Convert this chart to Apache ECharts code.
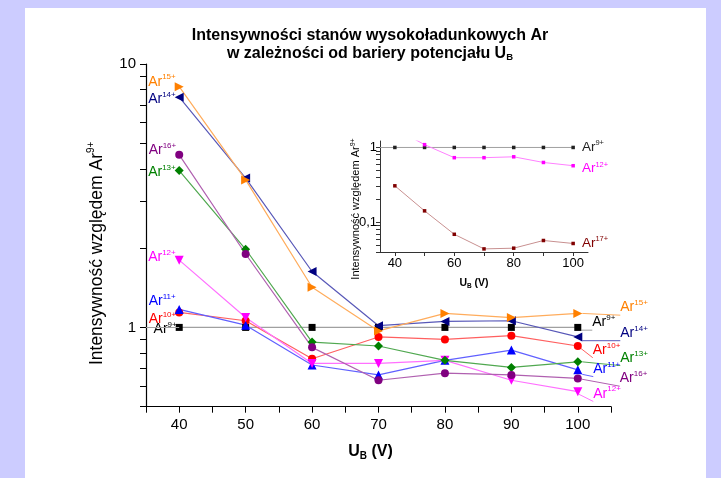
<!DOCTYPE html>
<html><head><meta charset="utf-8">
<script src="https://cdn.jsdelivr.net/npm/echarts@6/dist/echarts.min.js"></script>
<style>
html,body{margin:0;padding:0;background:#ccccff;width:721px;height:478px;overflow:hidden}
#panel{position:absolute;left:25px;top:8px;width:681px;height:470px;background:#fff}
#chart{position:absolute;left:0;top:0;width:721px;height:478px}
</style></head><body><div id="panel"></div><div id="chart"></div>
<script>
// ---- data ----
const uB = [40, 50, 60, 70, 80, 90, 100];
const ar9  = [1, 1, 1, 1, 1, 1, 1];
const ar10 = [1.14, 1.06, 0.76, 0.92, 0.90, 0.93, 0.85];
const ar11 = [1.17, 1.02, 0.72, 0.66, 0.75, 0.82, 0.69];
const ar12 = [1.80, 1.09, 0.73, 0.73, 0.75, 0.63, 0.57];
const ar13 = [3.94, 1.98, 0.88, 0.85, 0.75, 0.705, 0.74];
const ar14 = [7.48, 3.69, 1.63, 1.015, 1.054, 1.06, 0.92];
const ar15 = [8.2, 3.63, 1.42, 0.97, 1.13, 1.09, 1.13];
const ar16 = [4.52, 1.90, 0.84, 0.63, 0.67, 0.66, 0.64];
const ar17 = [0.307, 0.142, 0.069, 0.044, 0.045, 0.057, 0.052];

// ---- axis ticks / labels ----
const mainXTicks = [35, 40, 45, 50, 55, 60, 65, 70, 75, 80, 85, 90, 95, 100, 105];
const mainXLabels = [40, 50, 60, 70, 80, 90, 100];
const mainYTicks = [0.5, 0.6, 0.7, 0.8, 0.9, 1, 2, 3, 4, 5, 6, 7, 8, 9, 10];
const mainYLabels = [1, 10];
const insetXTicks = [40, 50, 60, 70, 80, 90, 100];
const insetXLabels = [40, 60, 80, 100];
const insetYTicks = [0.04, 0.05, 0.06, 0.07, 0.08, 0.09, 0.1, 0.2, 0.3, 0.4, 0.5, 0.6, 0.7, 0.8, 0.9, 1];
const insetYLabels = [0.1, 1];

const FF = '"Liberation Sans", Arial, Helvetica, sans-serif';

function rich(color, size, sup) {
  return {
    a: {fontSize: size, color: color, fontFamily: FF, lineHeight: size + 3},
    s: {fontSize: sup, color: color, fontFamily: FF, verticalAlign: 'top', lineHeight: sup + 1}
  };
}

// styles for main series
const mainCfg = [
  {name: 'Ar9+',  vals: ar9,  sup: '9+',  color: '#000000', line: '#a0a0a0', symbol: 'rect',     rot: 0,   size: 7, lOff: [3, 2],  rOff: [6, -5]},
  {name: 'Ar10+', vals: ar10, sup: '10+', color: '#ff0000', line: '#ff6060', symbol: 'circle',   rot: 0,   size: 8, lOff: [3, 7],  rOff: [6, 4]},
  {name: 'Ar11+', vals: ar11, sup: '11+', color: '#0000ff', line: '#6060ff', symbol: 'triangle', rot: 0,   size: 9, lOff: [3, -8], rOff: [6, -1]},
  {name: 'Ar12+', vals: ar12, sup: '12+', color: '#ff00ff', line: '#ff70ff', symbol: 'triangle', rot: 180, size: 9, lOff: [3, -3], rOff: [6, 2]},
  {name: 'Ar13+', vals: ar13, sup: '13+', color: '#008000', line: '#50a850', symbol: 'diamond',  rot: 0,   size: 9, lOff: [3, 2],  rOff: [33, -4]},
  {name: 'Ar16+', vals: ar16, sup: '16+', color: '#800080', line: '#b060b0', symbol: 'circle',   rot: 0,   size: 8, lOff: [3, -5], rOff: [33, 0]},
  {name: 'Ar14+', vals: ar14, sup: '14+', color: '#000080', line: '#5858b8', symbol: 'triangle', rot: 90,  size: 9, lOff: [3, 2],  rOff: [33, -4]},
  {name: 'Ar15+', vals: ar15, sup: '15+', color: '#ff8000', line: '#ffac5c', symbol: 'triangle', rot: -90, size: 9, lOff: [3, -5], rOff: [33, -6]}
];

function mainSeries(c) {
  const last = c.vals.length - 1;
  const lbl = '{a|Ar}{s|' + c.sup + '}';
  const s = {
    type: 'line', name: c.name, xAxisIndex: 0, yAxisIndex: 0,
    symbol: c.symbol, symbolSize: c.size, symbolRotate: c.rot,
    itemStyle: {color: c.color},
    lineStyle: {color: c.line, width: 1.2},
    label: {show: false}, labelLine: {show: false},
    emphasis: {disabled: true},
    data: c.vals.map(function (v, i) {
      const it = {value: [uB[i], v]};
      if (i === 0) {
        it.label = {show: true, position: 'left', distance: 2, offset: c.lOff, formatter: lbl, rich: rich(c.color, 14, 8)};
      } else if (i === last) {
        it.label = {show: true, position: 'right', distance: 5, offset: c.rOff, formatter: lbl, rich: rich(c.color, 14, 8)};
        it.labelLine = {show: true, length2: 0, lineStyle: {color: c.line, width: 1}};
      }
      return it;
    })
  };
  if (c.name === 'Ar9+') {
    s.markLine = {
      silent: true, symbol: 'none', label: {show: false},
      lineStyle: {color: c.line, width: 1.2, type: 'solid'},
      data: [[{coord: [mainXTicks[0], c.vals[0]]}, {coord: [uB[0], c.vals[0]]}]]
    };
  }
  return s;
}

const insetCfg = [
  {name: 'Ar9+',  vals: ar9,  sup: '9+',  color: '#222222', line: '#a0a0a0', off: [2, 0]},
  {name: 'Ar12+', vals: ar12, sup: '12+', color: '#ff00ff', line: '#ff80ff', off: [2, 3]},
  {name: 'Ar17+', vals: ar17, sup: '17+', color: '#800000', line: '#c89090', off: [2, 0]}
];

function insetSeries(c) {
  const last = c.vals.length - 1;
  const s = {
    type: 'line', name: c.name + ' (inset)', xAxisIndex: 1, yAxisIndex: 1,
    symbol: 'rect', symbolSize: 3.5,
    itemStyle: {color: c.color},
    lineStyle: {color: c.line, width: 1},
    label: {show: false},
    emphasis: {disabled: true},
    z: 5,
    data: c.vals.map(function (v, i) {
      const it = {value: [uB[i], v]};
      if (i === last) {
        it.label = {show: true, position: 'right', distance: 5, offset: c.off, formatter: '{a|Ar}{s|' + c.sup + '}', rich: rich(c.color, 13.5, 7.5)};
      }
      return it;
    })
  };
  if (c.name === 'Ar9+') {
    s.markLine = {
      silent: true, symbol: 'none', label: {show: false},
      lineStyle: {color: c.line, width: 1, type: 'solid'},
      data: [[{coord: [insetXTicks[0] - 5, c.vals[0]]}, {coord: [uB[0], c.vals[0]]}]]
    };
  }
  return s;
}

function near(v, list) {
  for (let i = 0; i < list.length; i++) if (Math.abs(v - list[i]) < 1e-9 * Math.max(1, list[i])) return true;
  return false;
}

const chart = echarts.init(document.getElementById('chart'), null, {renderer: 'canvas'});
const option = {
  animation: false,
  backgroundColor: 'transparent',
  graphic: [{
    type: 'text', x: 370, y: 27, z: 10,
    style: {
      text: '{t|Intensywności stanów wysokoładunkowych Ar}\n{t|w zależności od bariery potencjału U}{b|B}',
      align: 'center', verticalAlign: 'top',
      rich: {
        t: {fontSize: 16, fontWeight: 'bold', fontFamily: FF, fill: '#000', color: '#000', lineHeight: 17.5},
        b: {fontSize: 9.5, fontWeight: 'bold', fontFamily: FF, fill: '#000', color: '#000', verticalAlign: 'bottom', lineHeight: 9}
      }
    }
  }],
  grid: [
    {left: 146, right: 110, top: 64, bottom: 71.3},
    {left: 380, right: 133, top: 141, bottom: 226}
  ],
  xAxis: [
    {
      type: 'value', gridIndex: 0, min: 35, max: 105,
      splitLine: {show: false},
      axisLine: {lineStyle: {color: '#000', width: 1.2}},
      axisTick: {length: 6, lineStyle: {color: '#000'}, customValues: mainXTicks},
      axisLabel: {customValues: mainXLabels, fontSize: 15, color: '#000', fontFamily: FF, margin: 11},
      name: '{u|U}{b|B}{u| (V)}', nameLocation: 'middle', nameGap: 35,
      nameTextStyle: {padding: [0, 16, 0, 0], rich: {
        u: {fontSize: 16, fontWeight: 'bold', fontFamily: FF, color: '#000', lineHeight: 20},
        b: {fontSize: 10, fontWeight: 'bold', fontFamily: FF, color: '#000', verticalAlign: 'bottom', lineHeight: 10}
      }}
    },
    {
      type: 'value', gridIndex: 1, min: 35, max: 105,
      splitLine: {show: false},
      axisLine: {lineStyle: {color: '#333', width: 1}},
      axisTick: {length: 4, lineStyle: {color: '#333'}, customValues: insetXTicks},
      axisLabel: {customValues: insetXLabels, fontSize: 13, color: '#000', fontFamily: FF, margin: 5},
      name: '{u|U}{b|B}{u| (V)}', nameLocation: 'middle', nameGap: 25,
      nameTextStyle: {padding: [0, 20, 0, 0], rich: {
        u: {fontSize: 10.5, fontWeight: 'bold', fontFamily: FF, color: '#000', lineHeight: 13},
        b: {fontSize: 6.5, fontWeight: 'bold', fontFamily: FF, color: '#000', verticalAlign: 'bottom', lineHeight: 7}
      }}
    }
  ],
  yAxis: [
    {
      type: 'log', logBase: 10, gridIndex: 0, min: 0.5, max: 10,
      splitLine: {show: false},
      axisLine: {show: true, lineStyle: {color: '#000', width: 1.2}},
      axisTick: {show: true, length: 6, lineStyle: {color: '#000'}, customValues: mainYTicks},
      axisLabel: {customValues: mainYLabels, fontSize: 15, color: '#000', fontFamily: FF, margin: 10,
        formatter: function (v) { return near(v, mainYLabels) ? String(Math.round(v * 1000) / 1000) : ''; }},
      name: '{a|Intensywność względem Ar}{s|9+}', nameLocation: 'middle', nameRotate: 90, nameGap: 38,
      nameMoveOverlap: false,
      nameTextStyle: {padding: [0, 36, 0, 0], rich: {
        a: {fontSize: 17.5, fontFamily: FF, color: '#000', lineHeight: 22},
        s: {fontSize: 10, fontFamily: FF, color: '#000', verticalAlign: 'top', lineHeight: 11}
      }}
    },
    {
      type: 'log', logBase: 10, gridIndex: 1, min: 0.04, max: 1.22,
      splitLine: {show: false},
      axisLine: {show: true, lineStyle: {color: '#333', width: 1}},
      axisTick: {show: true, length: 4, lineStyle: {color: '#333'}, customValues: insetYTicks},
      axisLabel: {customValues: insetYLabels, fontSize: 13, color: '#000', fontFamily: FF, margin: 3,
        formatter: function (v) { return near(v, insetYLabels) ? String(Math.round(v * 1000) / 1000).replace('.', ',') : ''; }},
      name: '{a|Intensywność względem Ar}{s|9+}', nameLocation: 'middle', nameRotate: 90, nameGap: 17.5,
      nameMoveOverlap: false,
      nameTextStyle: {padding: [0, 25, 0, 0], rich: {
        a: {fontSize: 11, fontFamily: FF, color: '#000', lineHeight: 13},
        s: {fontSize: 7, fontFamily: FF, color: '#000', verticalAlign: 'top', lineHeight: 7}
      }}
    }
  ],
  series: mainCfg.map(mainSeries).concat(insetCfg.map(insetSeries))
};
chart.setOption(option);
</script>
</body></html>
